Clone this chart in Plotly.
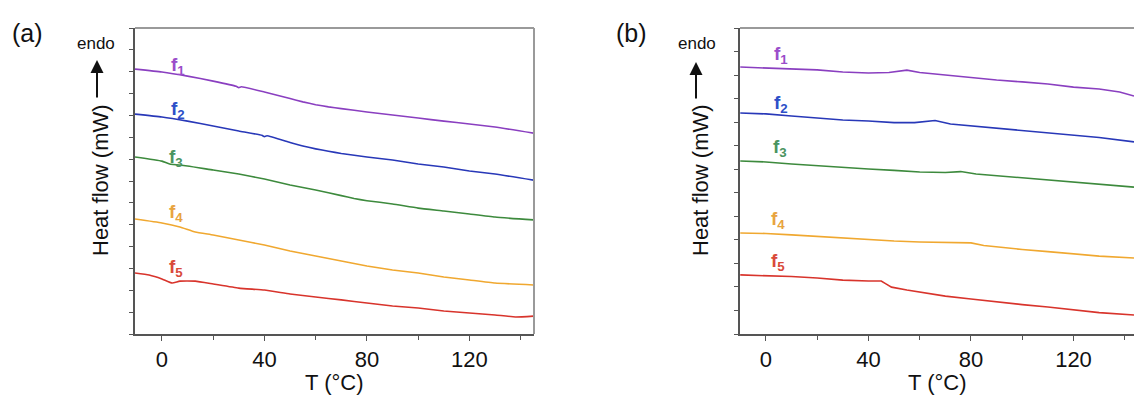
import plotly.graph_objects as go

W, H = 1134, 395

# ---------------- data ----------------
series_names = ["1", "2", "3", "4", "5"]
line_colors = ["#8a3fc0", "#2838b8", "#3d8a3d", "#f0a830", "#d8342c"]
label_colors = ["#9b4dca", "#2d4fc8", "#4a9460", "#e8a440", "#d94a3a"]

# Panel (a)
a_f1_T = [-10.5, 0, 10, 20, 29, 30, 31, 40, 50, 55, 60, 65, 70, 80, 90, 100, 110, 120, 130, 145]
a_f1_y = [12.12, 11.99, 11.80, 11.57, 11.33, 11.27, 11.31, 11.07, 10.77, 10.62, 10.49, 10.39, 10.31, 10.16, 10.02, 9.88, 9.74, 9.61, 9.47, 9.19]
a_f2_T = [-10.5, 0, 10, 20, 30, 39, 40, 41, 50, 55, 60, 65, 70, 80, 90, 100, 110, 120, 130, 145]
a_f2_y = [10.06, 9.93, 9.74, 9.52, 9.29, 9.09, 9.03, 9.07, 8.76, 8.60, 8.47, 8.36, 8.26, 8.10, 7.96, 7.78, 7.64, 7.46, 7.32, 7.04]
a_f3_T = [-10.5, 0, 3, 10, 20, 30, 40, 50, 60, 70, 75, 80, 90, 100, 110, 120, 130, 145]
a_f3_y = [8.10, 7.91, 7.78, 7.69, 7.50, 7.32, 7.09, 6.82, 6.59, 6.33, 6.20, 6.10, 5.95, 5.76, 5.63, 5.49, 5.35, 5.22]
a_f4_T = [-10.5, 0, 7, 13, 20, 30, 40, 50, 60, 70, 80, 90, 100, 110, 120, 130, 145]
a_f4_y = [5.26, 5.08, 4.90, 4.67, 4.53, 4.30, 4.07, 3.80, 3.57, 3.34, 3.11, 2.93, 2.79, 2.61, 2.47, 2.33, 2.24]
a_f5_T = [-10.5, -5, 0, 4, 7, 13, 20, 30, 40, 50, 60, 70, 80, 90, 100, 110, 120, 130, 138, 145]
a_f5_y = [2.79, 2.70, 2.52, 2.33, 2.42, 2.42, 2.29, 2.10, 2.01, 1.83, 1.69, 1.56, 1.42, 1.28, 1.19, 1.05, 0.96, 0.87, 0.78, 0.82]

# Panel (b)
b_f1_T = [-10, 0, 10, 20, 30, 40, 48, 55, 60, 70, 80, 90, 100, 110, 120, 130, 138, 143.6]
b_f1_y = [11.34, 11.30, 11.26, 11.22, 11.13, 11.09, 11.11, 11.21, 11.11, 11.00, 10.87, 10.79, 10.71, 10.62, 10.49, 10.41, 10.28, 10.11]
b_f2_T = [-10, 0, 10, 20, 30, 40, 50, 58, 66, 72, 80, 90, 100, 110, 120, 130, 143.6]
b_f2_y = [9.39, 9.35, 9.26, 9.18, 9.09, 9.05, 8.98, 8.98, 9.07, 8.92, 8.84, 8.75, 8.64, 8.54, 8.45, 8.35, 8.16]
b_f3_T = [-10, 0, 10, 20, 30, 40, 50, 60, 70, 76, 82, 90, 100, 110, 120, 130, 143.6]
b_f3_y = [7.35, 7.31, 7.22, 7.14, 7.09, 7.01, 6.95, 6.88, 6.86, 6.90, 6.80, 6.73, 6.65, 6.54, 6.46, 6.37, 6.24]
b_f4_T = [-10, 0, 10, 20, 30, 40, 50, 60, 70, 80, 85, 90, 100, 110, 120, 130, 143.6]
b_f4_y = [4.29, 4.27, 4.21, 4.14, 4.08, 4.01, 3.95, 3.91, 3.89, 3.87, 3.76, 3.70, 3.59, 3.50, 3.40, 3.31, 3.23]
b_f5_T = [-10, 0, 10, 20, 30, 40, 45, 47, 49, 55, 60, 70, 80, 90, 100, 110, 120, 130, 143.6]
b_f5_y = [2.51, 2.49, 2.44, 2.38, 2.29, 2.25, 2.25, 2.12, 1.99, 1.87, 1.78, 1.61, 1.49, 1.36, 1.25, 1.15, 1.02, 0.91, 0.81]

x_tick_vals = [0, 40, 80, 120]
x_tick_text = ["0", "40", "80", "120"]
panel_tags = ["(a)", "(b)"]
x_title = "T (°C)"
y_title = "Heat flow (mW)"
endo_text = "endo"

panel_a = [(a_f1_T, a_f1_y), (a_f2_T, a_f2_y), (a_f3_T, a_f3_y), (a_f4_T, a_f4_y), (a_f5_T, a_f5_y)]
panel_b = [(b_f1_T, b_f1_y), (b_f2_T, b_f2_y), (b_f3_T, b_f3_y), (b_f4_T, b_f4_y), (b_f5_T, b_f5_y)]

# ---------------- figure ----------------
FONT = "Liberation Sans, Arial, Helvetica, sans-serif"
fig = go.Figure()

for i, (T, y) in enumerate(panel_a):
    fig.add_trace(go.Scatter(x=T, y=y, mode="lines", xaxis="x", yaxis="y",
                             line=dict(color=line_colors[i], width=1.6, shape="spline", smoothing=0.4),
                             showlegend=False))
for i, (T, y) in enumerate(panel_b):
    fig.add_trace(go.Scatter(x=T, y=y, mode="lines", xaxis="x2", yaxis="y2",
                             line=dict(color=line_colors[i], width=1.6), showlegend=False))

def px(xp):
    return xp / W

def py(yp):
    return 1 - yp / H

ydom = [py(334), py(28)]
axis_line = "#555555"

common_x = dict(showgrid=False, zeroline=False, showline=True, linecolor=axis_line, linewidth=1.5,
                ticks="outside", ticklen=5, tickwidth=1.2, tickcolor=axis_line,
                tickvals=x_tick_vals, ticktext=x_tick_text, automargin=False,
                tickfont=dict(family=FONT, size=22, color="#111111"),
                minor=dict(ticks="outside", ticklen=4, tickwidth=1.2, tickcolor=axis_line,
                           tickvals=[20, 60, 100, 140]))
common_y = dict(showgrid=False, zeroline=False, showline=True, linecolor=axis_line, linewidth=1.5,
                ticks="outside", ticklen=4, tickwidth=1.2, tickcolor=axis_line, automargin=False,
                showticklabels=False, domain=ydom)

fig.update_layout(
    width=W, height=H, margin=dict(l=0, r=0, t=0, b=0),
    paper_bgcolor="white", plot_bgcolor="white",
    xaxis=dict(domain=[px(135), px(534)], range=[-10.5, 145.2], anchor="y", **common_x),
    yaxis=dict(range=[0, 14], dtick=1, tick0=0, anchor="x", **common_y),
    xaxis2=dict(domain=[px(740), 1.0], range=[-10.1, 143.6], anchor="y2", **common_x),
    yaxis2=dict(range=[0, 13], dtick=1, tick0=0, anchor="x2", **common_y),
    showlegend=False,
)

# top / right border lines (lighter grey)
border = "#9a9a9a"
fig.add_shape(type="line", xref="x domain", yref="y domain", x0=0, x1=1, y0=1, y1=1,
              line=dict(color=border, width=2))
fig.add_shape(type="line", xref="x domain", yref="y domain", x0=1, x1=1, y0=0, y1=1,
              line=dict(color=border, width=2))
fig.add_shape(type="line", xref="x2 domain", yref="y2 domain", x0=0, x1=1, y0=1, y1=1,
              line=dict(color=border, width=2))

def text_ann(x, y, text, size, color="#111111", angle=0, xanchor="center", bold=False):
    return dict(x=px(x), y=py(y), text=text, showarrow=False, xref="paper", yref="paper",
                xanchor=xanchor, yanchor="middle", textangle=angle,
                font=dict(family=FONT, size=size, color=color))

ann = []
# panel tags
ann.append(text_ann(27, 33, panel_tags[0], 25))
ann.append(text_ann(631, 33, panel_tags[1], 25))
# endo
ann.append(text_ann(96, 43, endo_text, 17))
ann.append(text_ann(697, 43, endo_text, 17))
# arrows
for cx, top, bot in ((97, 60, 99), (696, 62, 100)):
    ann.append(dict(x=px(cx), y=py(top), ax=0, ay=bot - top, text="", showarrow=True,
                    xref="paper", yref="paper", arrowhead=2, arrowsize=1.3, arrowwidth=2,
                    arrowcolor="#111111"))
# y titles
ann.append(text_ann(100, 180, y_title, 22, angle=-90))
ann.append(text_ann(700, 180, y_title, 22, angle=-90))
# x titles
ann.append(text_ann(334, 382, x_title, 22))
ann.append(text_ann(937, 382, x_title, 22))
# series labels
a_lab = [(169, 66), (169, 110), (167, 158), (167, 213), (167, 268)]
b_lab = [(772, 55), (772, 104), (771, 148), (769, 220), (769, 262)]
for labs in (a_lab, b_lab):
    for i, (lx, ly) in enumerate(labs):
        ann.append(text_ann(lx, ly, "<b>f<sub>%s</sub></b>" % series_names[i], 19,
                            color=label_colors[i], xanchor="left"))

fig.update_layout(annotations=ann)
fig.write_html("out.html")
